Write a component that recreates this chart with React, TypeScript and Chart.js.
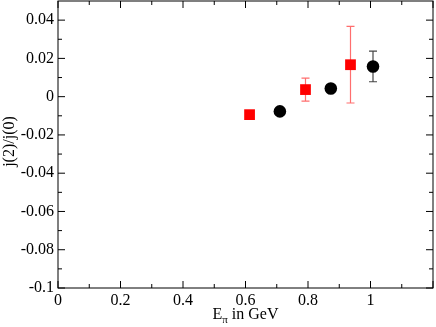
import { useEffect, useRef } from 'react';
import { Chart, registerables } from 'chart.js';

Chart.register(...registerables);

// ---- data ----
const redX = [0.613, 0.792, 0.936];
const redY = [-0.0094, 0.0037, 0.0167];
const redErr = [0.0012, 0.006, 0.02];
const blackX = [0.71, 0.873, 1.008];
const blackY = [-0.0077, 0.0043, 0.0158];
const blackErr = [0.0012, 0.0012, 0.008];

const xLabelTicks = [0, 0.2, 0.4, 0.6, 0.8, 1.0];
const xMajor = [0, 0.2, 0.4, 0.6, 0.8, 1.0, 1.2];
const xMinor = [0.1, 0.3, 0.5, 0.7, 0.9, 1.1];
const yMajor = [-0.1, -0.08, -0.06, -0.04, -0.02, 0, 0.02, 0.04];
const yMinor = [-0.09, -0.07, -0.05, -0.03, -0.01, 0.01, 0.03];

const xTitleMain = 'E';
const xTitleSub = 'π';
const xTitleRest = ' in GeV';
const yTitle = 'j(2)/j(0)';

const FONT = 'Liberation Serif';

const errorBarPlugin = {
  id: 'errorBars',
  beforeDatasetsDraw(chart: any) {
    const { ctx, scales } = chart;
    const xs = scales.x;
    const ys = scales.y;
    const sets = [
      { x: redX, y: redY, e: redErr, color: 'rgb(255,110,110)' },
      { x: blackX, y: blackY, e: blackErr, color: 'rgb(70,70,70)' },
    ];
    ctx.save();
    ctx.lineWidth = 1.2;
    for (const s of sets) {
      ctx.strokeStyle = s.color;
      for (let i = 0; i < s.x.length; i++) {
        const px = xs.getPixelForValue(s.x[i]);
        const top = ys.getPixelForValue(s.y[i] + s.e[i]);
        const bot = ys.getPixelForValue(s.y[i] - s.e[i]);
        ctx.beginPath();
        ctx.moveTo(px, top);
        ctx.lineTo(px, bot);
        ctx.moveTo(px - 4, top);
        ctx.lineTo(px + 4, top);
        ctx.moveTo(px - 4, bot);
        ctx.lineTo(px + 4, bot);
        ctx.stroke();
      }
    }
    ctx.restore();
  },
};

const framePlugin = {
  id: 'frame',
  afterDraw(chart: any) {
    const { ctx, chartArea, scales } = chart;
    const { left, right, top, bottom } = chartArea;
    const xs = scales.x;
    const ys = scales.y;
    ctx.save();
    ctx.strokeStyle = '#000';
    ctx.lineWidth = 1;
    ctx.strokeRect(left, top, right - left, bottom - top);
    ctx.beginPath();
    const tick = (vals: number[], len: number) => {
      for (const v of vals) {
        const px = xs.getPixelForValue(v);
        ctx.moveTo(px, bottom);
        ctx.lineTo(px, bottom - len);
        ctx.moveTo(px, top);
        ctx.lineTo(px, top + len);
      }
    };
    const ytick = (vals: number[], len: number) => {
      for (const v of vals) {
        const py = ys.getPixelForValue(v);
        ctx.moveTo(left, py);
        ctx.lineTo(left + len, py);
        ctx.moveTo(right, py);
        ctx.lineTo(right - len, py);
      }
    };
    tick(xMajor, 7);
    tick(xMinor, 4);
    ytick(yMajor, 7);
    ytick(yMinor, 4);
    ctx.stroke();

    // titles
    ctx.fillStyle = '#000';
    ctx.textBaseline = 'alphabetic';
    const cx = (left + right) / 2;
    ctx.font = `16px "${FONT}"`;
    const wE = ctx.measureText(xTitleMain).width;
    const wR = ctx.measureText(xTitleRest).width;
    ctx.font = `11px "${FONT}"`;
    const wS = ctx.measureText(xTitleSub).width;
    const total = wE + wS + wR;
    let x0 = cx - total / 2;
    const base = 319;
    ctx.textAlign = 'left';
    ctx.font = `16px "${FONT}"`;
    ctx.fillText(xTitleMain, x0, base);
    x0 += wE;
    ctx.font = `11px "${FONT}"`;
    ctx.fillText(xTitleSub, x0, base + 4);
    x0 += wS;
    ctx.font = `16px "${FONT}"`;
    ctx.fillText(xTitleRest, x0, base);

    ctx.translate(10, (top + bottom) / 2 - 3);
    ctx.rotate(-Math.PI / 2);
    ctx.textAlign = 'center';
    ctx.textBaseline = 'middle';
    ctx.fillText(yTitle, 0, 0);
    ctx.restore();
  },
};

const fmt = (v: number) => String(Math.round(v * 100) / 100);

export default function App() {
  const ref = useRef<HTMLCanvasElement | null>(null);
  useEffect(() => {
    if (!ref.current) return;
    const chart: any = new Chart(ref.current, {
      type: 'scatter',
      data: {
        datasets: [
          {
            data: redX.map((x, i) => ({ x, y: redY[i] })),
            pointStyle: 'rect',
            pointRadius: 7.6,
            borderWidth: 0,
            backgroundColor: '#ff0000',
            borderColor: '#ff0000',
          },
          {
            data: blackX.map((x, i) => ({ x, y: blackY[i] })),
            pointStyle: 'circle',
            pointRadius: 6.3,
            borderWidth: 0,
            backgroundColor: '#000000',
            borderColor: '#000000',
          },
        ],
      },
      options: {
        responsive: false,
        animation: false,
        layout: { autoPadding: false, padding: { top: 1, right: 3, left: 0, bottom: 0 } },
        plugins: { legend: { display: false }, tooltip: { enabled: false } },
        scales: {
          x: {
            type: 'linear',
            min: 0,
            max: 1.2,
            border: { display: false },
            grid: { display: false, drawTicks: false, tickLength: 0 },
            afterBuildTicks: (s: any) => {
              s.ticks = xLabelTicks.map((v) => ({ value: v }));
            },
            ticks: {
              padding: 3,
              color: '#000',
              maxRotation: 0,
              autoSkip: false,
              font: { family: FONT, size: 16 },
              callback: (v: any) => fmt(Number(v)),
            },
            afterFit: (s: any) => {
              s.height = 39;
              s.paddingLeft = 0;
              s.paddingRight = 0;
            },
          },
          y: {
            type: 'linear',
            min: -0.1,
            max: 0.05,
            border: { display: false },
            grid: { display: false, drawTicks: false, tickLength: 0 },
            afterBuildTicks: (s: any) => {
              s.ticks = yMajor.map((v) => ({ value: v }));
            },
            ticks: {
              padding: 4,
              color: '#000',
              autoSkip: false,
              font: { family: FONT, size: 16 },
              callback: (v: any) => fmt(Number(v)),
            },
            afterFit: (s: any) => {
              s.width = 58;
              s.paddingTop = 0;
              s.paddingBottom = 0;
            },
          },
        },
      },
      plugins: [errorBarPlugin, framePlugin],
    });
    return () => chart.destroy();
  }, []);
  return (
    <div style={{ position: 'absolute', left: 0, top: 0, width: 436, height: 327, background: '#fff' }}>
      <canvas ref={ref} width={436} height={327} style={{ display: 'block' }} />
    </div>
  );
}
